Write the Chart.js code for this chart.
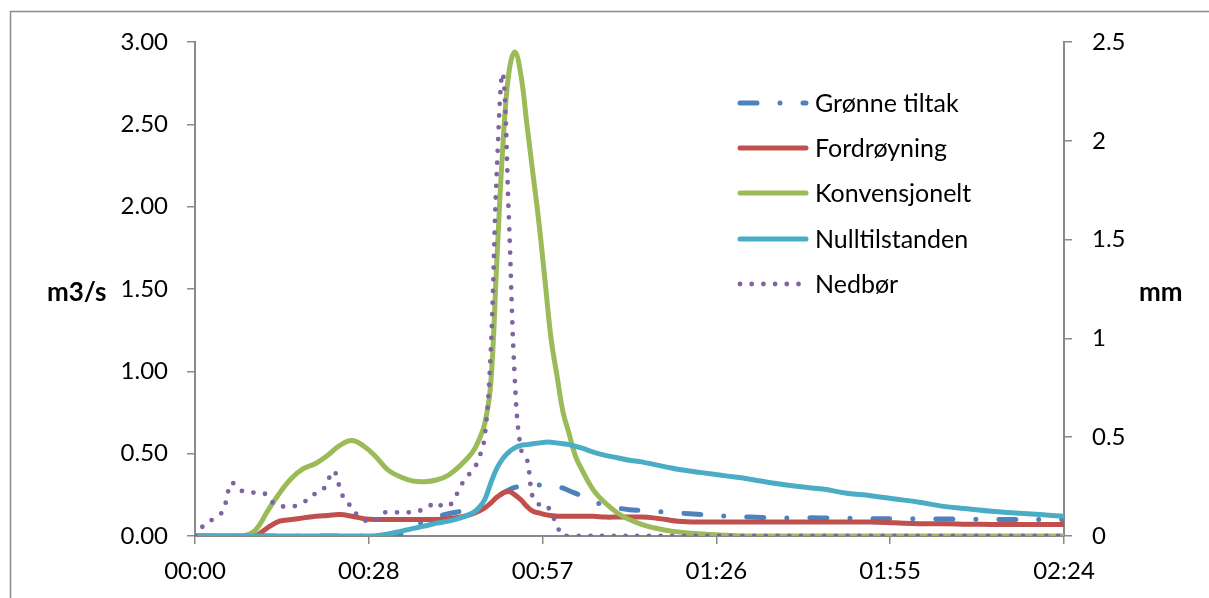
<!DOCTYPE html>
<html>
<head>
<meta charset="utf-8">
<script src="https://cdn.jsdelivr.net/npm/chart.js@4.4.1/dist/chart.umd.min.js"></script>
<style>
  html, body { margin: 0; padding: 0; background: #ffffff; overflow: hidden; }
  canvas { display: block; }
</style>
</head>
<body>
<canvas id="chart" width="1209" height="598"></canvas>
<script>
// Time (minutes after start) for the runoff series
const flowMinutes = [0, 2, 4, 6, 8, 10, 12, 14, 16, 18, 20, 22, 24, 26, 28, 30, 32, 34, 36, 38, 40, 42, 44, 46,
  47, 48, 49, 50, 51, 52, 53, 54, 55, 56, 57, 58, 59, 60, 61, 62, 63, 64, 66, 68, 70, 72, 74, 76, 78, 80,
  84, 88, 92, 96, 100, 104, 108, 112, 116, 120, 124, 128, 132, 136, 140, 144];

// Runoff, m3/s
const gronneTiltak = [0, 0, 0, 0, 0, 0, 0, 0, 0, 0, 0, 0, 0, 0, 0, 0, 0, 0.01, 0.05, 0.09, 0.115, 0.135, 0.15, 0.165,
  0.175, 0.19, 0.21, 0.235, 0.26, 0.28, 0.295, 0.30, 0.305, 0.31, 0.31, 0.31, 0.305, 0.30, 0.29, 0.275, 0.26, 0.245, 0.21, 0.185, 0.17, 0.16, 0.155, 0.15, 0.145, 0.14,
  0.13, 0.12, 0.115, 0.11, 0.11, 0.11, 0.108, 0.105, 0.105, 0.105, 0.103, 0.102, 0.10, 0.10, 0.10, 0.10];

const fordroyning = [0, 0, 0, 0, 0, 0, 0.05, 0.09, 0.10, 0.11, 0.12, 0.125, 0.13, 0.12, 0.105, 0.10, 0.10, 0.10, 0.10, 0.10, 0.10, 0.105, 0.115, 0.135,
  0.15, 0.17, 0.20, 0.235, 0.26, 0.27, 0.25, 0.22, 0.18, 0.15, 0.14, 0.13, 0.125, 0.12, 0.12, 0.12, 0.12, 0.12, 0.12, 0.115, 0.115, 0.115, 0.115, 0.11, 0.10, 0.09,
  0.085, 0.085, 0.085, 0.085, 0.085, 0.085, 0.085, 0.085, 0.08, 0.075, 0.075, 0.072, 0.07, 0.07, 0.07, 0.07];

const konvensjonelt = [0, 0, 0, 0, 0, 0.035, 0.15, 0.26, 0.35, 0.41, 0.44, 0.49, 0.55, 0.58, 0.545, 0.48, 0.40, 0.36, 0.335, 0.33, 0.34, 0.37, 0.43, 0.51,
  0.58, 0.68, 0.92, 1.66, 2.36, 2.81, 2.94, 2.80, 2.50, 2.20, 1.90, 1.55, 1.20, 0.97, 0.75, 0.62, 0.49, 0.41, 0.28, 0.20, 0.14, 0.10, 0.07, 0.05, 0.035, 0.025,
  0.012, 0.005, 0, 0, 0, 0, 0, 0, 0, 0, 0, 0, 0, 0, 0, 0];

const nulltilstanden = [0, 0, 0, 0, 0, 0, 0, 0, 0, 0, 0, 0, 0, 0, 0, 0.002, 0.012, 0.028, 0.045, 0.06, 0.078, 0.09, 0.11, 0.14,
  0.17, 0.22, 0.32, 0.41, 0.47, 0.51, 0.535, 0.55, 0.555, 0.56, 0.565, 0.57, 0.57, 0.565, 0.56, 0.555, 0.545, 0.535, 0.51, 0.49, 0.475, 0.46, 0.45, 0.435, 0.42, 0.405,
  0.385, 0.365, 0.345, 0.32, 0.30, 0.285, 0.26, 0.245, 0.225, 0.205, 0.18, 0.165, 0.15, 0.14, 0.13, 0.12];

// Rainfall, mm per minute
const rainMinutes = [0, 1, 2, 3, 4, 5, 6, 7, 8, 9, 10, 11, 12, 13, 14, 15, 16, 17, 18, 19, 20, 21, 22, 23, 24, 25, 26, 27, 28, 29,
  30, 31, 32, 33, 34, 35, 36, 37, 38, 39, 40, 41, 42, 43, 44, 45, 46, 47, 48, 49, 50, 51, 52, 53, 54, 55, 56, 57, 58, 59,
  60, 61, 62, 144];
const nedbor = [0, 0.04, 0.065, 0.085, 0.10, 0.16, 0.27, 0.245, 0.225, 0.22, 0.22, 0.22, 0.205, 0.165, 0.15, 0.15, 0.15, 0.155, 0.17, 0.195, 0.215, 0.225, 0.28, 0.33, 0.245, 0.17, 0.15, 0.10, 0.08, 0.075,
  0.08, 0.115, 0.12, 0.12, 0.12, 0.12, 0.12, 0.125, 0.14, 0.155, 0.17, 0.15, 0.15, 0.19, 0.25, 0.30, 0.33, 0.39, 0.50, 0.93, 1.84, 2.34, 1.62, 0.79, 0.44, 0.39, 0.19, 0.16, 0.16, 0.12,
  0.05, 0, 0, 0];

// Axis ticks
const timeTicks = [0, 28.8, 57.6, 86.4, 115.2, 144];
const timeTickLabels = ['00:00', '00:28', '00:57', '01:26', '01:55', '02:24'];
const flowTicks = [0, 0.5, 1, 1.5, 2, 2.5, 3];
const flowTickLabels = ['0.00', '0.50', '1.00', '1.50', '2.00', '2.50', '3.00'];
const rainTicks = [0, 0.5, 1, 1.5, 2, 2.5];
const rainTickLabels = ['0', '0.5', '1', '1.5', '2', '2.5'];

const seriesNames = ['Grønne tiltak', 'Fordrøyning', 'Konvensjonelt', 'Nulltilstanden', 'Nedbør'];

const toPoints = (xs, ys) => xs.map((x, i) => ({ x: x, y: ys[i] }));

const FONT = 'Lato, "Liberation Sans", sans-serif';
const AXIS_GREY = '#8a8a8a';

const frame = {
  id: 'frame',
  beforeDraw(chart) {
    const ctx = chart.ctx;
    ctx.save();
    ctx.fillStyle = '#ffffff';
    ctx.fillRect(0, 0, chart.width, chart.height);
    ctx.strokeStyle = '#8c8c8c';
    ctx.lineWidth = 1.5;
    ctx.strokeRect(10.5, 11.5, chart.width + 20, chart.height + 20);
    ctx.restore();
  }
};

const axisTitles = {
  id: 'axisTitles',
  afterDraw(chart) {
    const ctx = chart.ctx;
    const area = chart.chartArea;
    const midY = (area.top + area.bottom) / 2;
    ctx.save();
    ctx.fillStyle = '#000000';
    ctx.font = 'bold 26px ' + FONT;
    ctx.textBaseline = 'middle';
    ctx.textAlign = 'left';
    ctx.fillText('m3/s', 47, midY + 4);
    ctx.fillText('mm', 1139, midY + 4);
    ctx.restore();
  }
};

const insideLegend = {
  id: 'insideLegend',
  afterDatasetsDraw(chart) {
    const ctx = chart.ctx;
    const rows = [103, 148, 193, 239, 284];
    const x0 = 740, x1 = 806, textX = 815;
    ctx.save();
    chart.data.datasets.forEach((ds, i) => {
      const y = rows[i];
      ctx.beginPath();
      ctx.strokeStyle = ds.borderColor;
      ctx.lineWidth = ds.borderWidth;
      ctx.lineCap = 'round';
      ctx.setLineDash(ds.borderDash || []);
      ctx.moveTo(x0, y);
      ctx.lineTo(x1, y);
      ctx.stroke();
      ctx.setLineDash([]);
      ctx.fillStyle = '#000000';
      ctx.font = '25px ' + FONT;
      ctx.textBaseline = 'middle';
      ctx.textAlign = 'left';
      ctx.fillText(ds.label, textX, y + 1);
    });
    ctx.restore();
  }
};

const lineStyle = {
  fill: false,
  pointRadius: 0,
  pointHoverRadius: 0,
  tension: 0.4,
  borderCapStyle: 'round',
  borderJoinStyle: 'round'
};

const axisGrid = {
  drawOnChartArea: false,
  drawTicks: true,
  tickLength: 8,
  color: AXIS_GREY,
  lineWidth: 1.5
};
const axisBorder = { display: true, color: AXIS_GREY, width: 2 };
const tickFont = { family: FONT, size: 24 };

new Chart(document.getElementById('chart'), {
  type: 'line',
  data: {
    datasets: [
      Object.assign({}, lineStyle, {
        label: seriesNames[0], data: toPoints(flowMinutes, gronneTiltak), yAxisID: 'y',
        borderColor: '#4f81bd', borderWidth: 5, borderDash: [17, 23, 0, 23], order: 5
      }),
      Object.assign({}, lineStyle, {
        label: seriesNames[1], data: toPoints(flowMinutes, fordroyning), yAxisID: 'y',
        borderColor: '#c0504d', borderWidth: 5, order: 4
      }),
      Object.assign({}, lineStyle, {
        label: seriesNames[2], data: toPoints(flowMinutes, konvensjonelt), yAxisID: 'y',
        borderColor: '#9bbb59', borderWidth: 5, order: 3
      }),
      Object.assign({}, lineStyle, {
        label: seriesNames[3], data: toPoints(flowMinutes, nulltilstanden), yAxisID: 'y',
        borderColor: '#4bacc6', borderWidth: 5, order: 2
      }),
      Object.assign({}, lineStyle, {
        label: seriesNames[4], data: toPoints(rainMinutes, nedbor), yAxisID: 'y1',
        borderColor: '#8064a2', borderWidth: 4.8, borderDash: [0, 11.7], order: 1
      })
    ]
  },
  options: {
    responsive: false,
    animation: false,
    devicePixelRatio: 1,
    layout: { padding: { top: 42, left: 0, right: 0, bottom: 0 } },
    plugins: { legend: { display: false }, tooltip: { enabled: false } },
    scales: {
      x: {
        type: 'linear', position: 'bottom', min: 0, max: 144,
        afterBuildTicks: s => { s.ticks = timeTicks.map(v => ({ value: v })); },
        afterFit: s => { s.height = 62; },
        ticks: {
          autoSkip: false, maxRotation: 0, padding: 13, color: '#000000', font: tickFont,
          callback: (v, i) => timeTickLabels[i]
        },
        grid: axisGrid, border: axisBorder
      },
      y: {
        type: 'linear', position: 'left', min: 0, max: 3,
        afterBuildTicks: s => { s.ticks = flowTicks.map(v => ({ value: v })); },
        afterFit: s => { s.width = 195; },
        ticks: {
          padding: 19, color: '#000000', font: tickFont,
          callback: (v, i) => flowTickLabels[i]
        },
        grid: axisGrid, border: axisBorder
      },
      y1: {
        type: 'linear', position: 'right', min: 0, max: 2.5,
        afterBuildTicks: s => { s.ticks = rainTicks.map(v => ({ value: v })); },
        afterFit: s => { s.width = 145; },
        ticks: {
          padding: 20, color: '#000000', font: tickFont,
          callback: (v, i) => rainTickLabels[i]
        },
        grid: axisGrid, border: axisBorder
      }
    }
  },
  plugins: [frame, axisTitles, insideLegend]
});
</script>
</body>
</html>
